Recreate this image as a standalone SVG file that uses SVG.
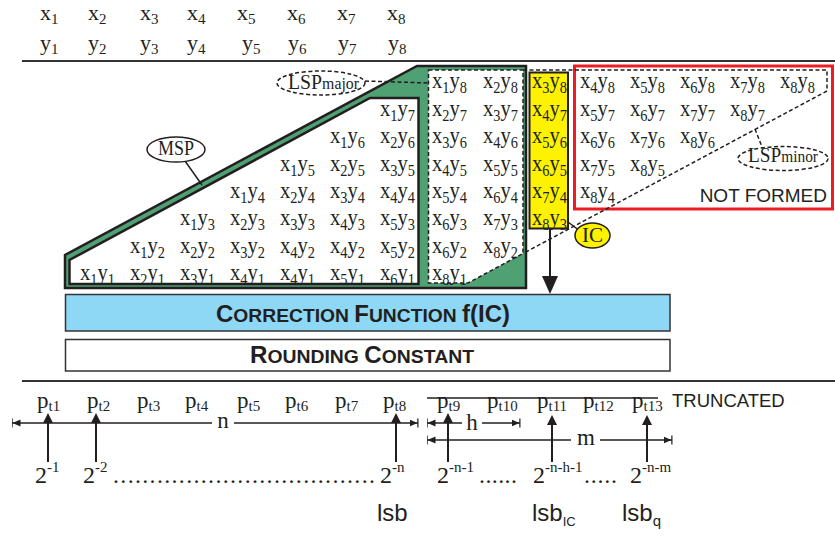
<svg xmlns="http://www.w3.org/2000/svg" width="835" height="538" viewBox="0 0 835 538">
  <defs>
    <style>
      .serif{font-family:"Liberation Serif","Times New Roman",serif;fill:#231f20}
      .sans{font-family:"Liberation Sans",Arial,sans-serif;fill:#231f20}
      .cell{font-size:23px}
      .cell .s{font-size:16px}
      .op{font-size:22px}
      .op .s{font-size:15px}
      .bit{font-size:23px}
      .bit .s{font-size:15px}
      .wt{font-size:24px}
      .sup{font-size:15px}
      .rule{stroke:#333;stroke-width:2;fill:none}
      .ln{stroke:#231f20;stroke-width:2;fill:none}
      .thin{stroke:#231f20;stroke-width:1.5;fill:none}
      .dash{stroke:#231f20;stroke-width:1.5;stroke-dasharray:4 2.5}
      .box{stroke:#333;stroke-width:1.5}
      .band{font-family:"Liberation Sans Narrow","Liberation Sans",Arial,sans-serif;font-weight:bold;font-size:23px;fill:#231f20}
      .band .sc{font-size:18.5px}
    </style>
    <marker id="up" viewBox="0 0 10 10" refX="3" refY="5" markerWidth="10" markerHeight="10" markerUnits="userSpaceOnUse" orient="auto">
      <path d="M0,0 L10,5 L0,10 Z" fill="#231f20"/>
    </marker>
    <marker id="tick" viewBox="0 0 9 10" refX="8.5" refY="5" markerWidth="9" markerHeight="10" markerUnits="userSpaceOnUse" orient="auto-start-reverse">
      <path d="M0,1.5 L8,5 L0,8.5 Z M7.8,0.5 H9 V9.5 H7.8 Z" fill="#231f20"/>
    </marker>
    <marker id="big" viewBox="0 0 18 16" refX="4" refY="8" markerWidth="18" markerHeight="16" markerUnits="userSpaceOnUse" orient="auto">
      <path d="M0,0 L18,8 L0,16 Z" fill="#231f20"/>
    </marker>
  </defs>

  <rect width="835" height="538" fill="#fff"/>

  <!-- operand bits -->
  <g id="operands" class="serif op">
    <text x="40" y="20">x<tspan class="s" dy="4">1</tspan></text>
    <text x="88" y="20">x<tspan class="s" dy="4">2</tspan></text>
    <text x="140" y="20">x<tspan class="s" dy="4">3</tspan></text>
    <text x="187" y="20">x<tspan class="s" dy="4">4</tspan></text>
    <text x="237" y="20">x<tspan class="s" dy="4">5</tspan></text>
    <text x="287" y="20">x<tspan class="s" dy="4">6</tspan></text>
    <text x="337" y="20">x<tspan class="s" dy="4">7</tspan></text>
    <text x="387" y="20">x<tspan class="s" dy="4">8</tspan></text>
    <text x="40" y="50">y<tspan class="s" dy="4">1</tspan></text>
    <text x="88" y="50">y<tspan class="s" dy="4">2</tspan></text>
    <text x="140" y="50">y<tspan class="s" dy="4">3</tspan></text>
    <text x="187" y="50">y<tspan class="s" dy="4">4</tspan></text>
    <text x="242" y="50">y<tspan class="s" dy="4">5</tspan></text>
    <text x="288" y="50">y<tspan class="s" dy="4">6</tspan></text>
    <text x="338" y="50">y<tspan class="s" dy="4">7</tspan></text>
    <text x="388" y="50">y<tspan class="s" dy="4">8</tspan></text>
  </g>

  <!-- section rules -->
  <line class="rule" x1="22" y1="61" x2="835" y2="61"/>
  <line class="rule" x1="22" y1="381" x2="835" y2="381"/>

  <!-- most significant part: green band with white interior -->
  <g id="msp">
    <path d="M65,288 V255 L417,66 H526 V288 Z" fill="#4fa173" stroke="#231f20" stroke-width="2.5"/>
    <path d="M69.5,284 V260 L370,98 H418.5 V284 Z" fill="#fff" stroke="#231f20" stroke-width="2.5"/>
    <g class="serif cell">
      <text x="380" y="115.5" textLength="35" lengthAdjust="spacingAndGlyphs">x<tspan class="s" dy="5">1</tspan><tspan dy="-5">y</tspan><tspan class="s" dy="5">7</tspan></text>
      <text x="330" y="143" textLength="35" lengthAdjust="spacingAndGlyphs">x<tspan class="s" dy="5">1</tspan><tspan dy="-5">y</tspan><tspan class="s" dy="5">6</tspan></text>
      <text x="380" y="143" textLength="35" lengthAdjust="spacingAndGlyphs">x<tspan class="s" dy="5">2</tspan><tspan dy="-5">y</tspan><tspan class="s" dy="5">6</tspan></text>
      <text x="280" y="170.5" textLength="35" lengthAdjust="spacingAndGlyphs">x<tspan class="s" dy="5">1</tspan><tspan dy="-5">y</tspan><tspan class="s" dy="5">5</tspan></text>
      <text x="330" y="170.5" textLength="35" lengthAdjust="spacingAndGlyphs">x<tspan class="s" dy="5">2</tspan><tspan dy="-5">y</tspan><tspan class="s" dy="5">5</tspan></text>
      <text x="380" y="170.5" textLength="35" lengthAdjust="spacingAndGlyphs">x<tspan class="s" dy="5">3</tspan><tspan dy="-5">y</tspan><tspan class="s" dy="5">5</tspan></text>
      <text x="230" y="198" textLength="35" lengthAdjust="spacingAndGlyphs">x<tspan class="s" dy="5">1</tspan><tspan dy="-5">y</tspan><tspan class="s" dy="5">4</tspan></text>
      <text x="280" y="198" textLength="35" lengthAdjust="spacingAndGlyphs">x<tspan class="s" dy="5">2</tspan><tspan dy="-5">y</tspan><tspan class="s" dy="5">4</tspan></text>
      <text x="330" y="198" textLength="35" lengthAdjust="spacingAndGlyphs">x<tspan class="s" dy="5">3</tspan><tspan dy="-5">y</tspan><tspan class="s" dy="5">4</tspan></text>
      <text x="380" y="198" textLength="35" lengthAdjust="spacingAndGlyphs">x<tspan class="s" dy="5">4</tspan><tspan dy="-5">y</tspan><tspan class="s" dy="5">4</tspan></text>
      <text x="180" y="225" textLength="35" lengthAdjust="spacingAndGlyphs">x<tspan class="s" dy="5">1</tspan><tspan dy="-5">y</tspan><tspan class="s" dy="5">3</tspan></text>
      <text x="230" y="225" textLength="35" lengthAdjust="spacingAndGlyphs">x<tspan class="s" dy="5">2</tspan><tspan dy="-5">y</tspan><tspan class="s" dy="5">3</tspan></text>
      <text x="280" y="225" textLength="35" lengthAdjust="spacingAndGlyphs">x<tspan class="s" dy="5">3</tspan><tspan dy="-5">y</tspan><tspan class="s" dy="5">3</tspan></text>
      <text x="330" y="225" textLength="35" lengthAdjust="spacingAndGlyphs">x<tspan class="s" dy="5">4</tspan><tspan dy="-5">y</tspan><tspan class="s" dy="5">3</tspan></text>
      <text x="380" y="225" textLength="35" lengthAdjust="spacingAndGlyphs">x<tspan class="s" dy="5">5</tspan><tspan dy="-5">y</tspan><tspan class="s" dy="5">3</tspan></text>
      <text x="130" y="252.5" textLength="35" lengthAdjust="spacingAndGlyphs">x<tspan class="s" dy="5">1</tspan><tspan dy="-5">y</tspan><tspan class="s" dy="5">2</tspan></text>
      <text x="180" y="252.5" textLength="35" lengthAdjust="spacingAndGlyphs">x<tspan class="s" dy="5">2</tspan><tspan dy="-5">y</tspan><tspan class="s" dy="5">2</tspan></text>
      <text x="230" y="252.5" textLength="35" lengthAdjust="spacingAndGlyphs">x<tspan class="s" dy="5">3</tspan><tspan dy="-5">y</tspan><tspan class="s" dy="5">2</tspan></text>
      <text x="280" y="252.5" textLength="35" lengthAdjust="spacingAndGlyphs">x<tspan class="s" dy="5">4</tspan><tspan dy="-5">y</tspan><tspan class="s" dy="5">2</tspan></text>
      <text x="330" y="252.5" textLength="35" lengthAdjust="spacingAndGlyphs">x<tspan class="s" dy="5">4</tspan><tspan dy="-5">y</tspan><tspan class="s" dy="5">2</tspan></text>
      <text x="380" y="252.5" textLength="35" lengthAdjust="spacingAndGlyphs">x<tspan class="s" dy="5">5</tspan><tspan dy="-5">y</tspan><tspan class="s" dy="5">2</tspan></text>
      <text x="80" y="280" textLength="35" lengthAdjust="spacingAndGlyphs">x<tspan class="s" dy="5">1</tspan><tspan dy="-5">y</tspan><tspan class="s" dy="5">1</tspan></text>
      <text x="130" y="280" textLength="35" lengthAdjust="spacingAndGlyphs">x<tspan class="s" dy="5">2</tspan><tspan dy="-5">y</tspan><tspan class="s" dy="5">1</tspan></text>
      <text x="180" y="280" textLength="35" lengthAdjust="spacingAndGlyphs">x<tspan class="s" dy="5">3</tspan><tspan dy="-5">y</tspan><tspan class="s" dy="5">1</tspan></text>
      <text x="230" y="280" textLength="35" lengthAdjust="spacingAndGlyphs">x<tspan class="s" dy="5">4</tspan><tspan dy="-5">y</tspan><tspan class="s" dy="5">1</tspan></text>
      <text x="280" y="280" textLength="35" lengthAdjust="spacingAndGlyphs">x<tspan class="s" dy="5">4</tspan><tspan dy="-5">y</tspan><tspan class="s" dy="5">1</tspan></text>
      <text x="330" y="280" textLength="35" lengthAdjust="spacingAndGlyphs">x<tspan class="s" dy="5">5</tspan><tspan dy="-5">y</tspan><tspan class="s" dy="5">1</tspan></text>
      <text x="380" y="280" textLength="35" lengthAdjust="spacingAndGlyphs">x<tspan class="s" dy="5">6</tspan><tspan dy="-5">y</tspan><tspan class="s" dy="5">1</tspan></text>
    </g>
  </g>

  <!-- least significant part, major columns -->
  <g id="lsp-major">
    <path class="dash" d="M428.5,70 H523 V253.5 L468,283 H428.5 Z" fill="#fff"/>
    <g class="serif cell">
      <text x="432" y="88" textLength="35" lengthAdjust="spacingAndGlyphs">x<tspan class="s" dy="5">1</tspan><tspan dy="-5">y</tspan><tspan class="s" dy="5">8</tspan></text>
      <text x="432" y="115.5" textLength="35" lengthAdjust="spacingAndGlyphs">x<tspan class="s" dy="5">2</tspan><tspan dy="-5">y</tspan><tspan class="s" dy="5">7</tspan></text>
      <text x="432" y="143" textLength="35" lengthAdjust="spacingAndGlyphs">x<tspan class="s" dy="5">3</tspan><tspan dy="-5">y</tspan><tspan class="s" dy="5">6</tspan></text>
      <text x="432" y="170.5" textLength="35" lengthAdjust="spacingAndGlyphs">x<tspan class="s" dy="5">4</tspan><tspan dy="-5">y</tspan><tspan class="s" dy="5">5</tspan></text>
      <text x="432" y="198" textLength="35" lengthAdjust="spacingAndGlyphs">x<tspan class="s" dy="5">5</tspan><tspan dy="-5">y</tspan><tspan class="s" dy="5">4</tspan></text>
      <text x="432" y="225" textLength="35" lengthAdjust="spacingAndGlyphs">x<tspan class="s" dy="5">6</tspan><tspan dy="-5">y</tspan><tspan class="s" dy="5">3</tspan></text>
      <text x="432" y="252.5" textLength="35" lengthAdjust="spacingAndGlyphs">x<tspan class="s" dy="5">6</tspan><tspan dy="-5">y</tspan><tspan class="s" dy="5">2</tspan></text>
      <text x="432" y="280" textLength="35" lengthAdjust="spacingAndGlyphs">x<tspan class="s" dy="5">8</tspan><tspan dy="-5">y</tspan><tspan class="s" dy="5">1</tspan></text>
      <text x="483" y="88" textLength="35" lengthAdjust="spacingAndGlyphs">x<tspan class="s" dy="5">2</tspan><tspan dy="-5">y</tspan><tspan class="s" dy="5">8</tspan></text>
      <text x="483" y="115.5" textLength="35" lengthAdjust="spacingAndGlyphs">x<tspan class="s" dy="5">3</tspan><tspan dy="-5">y</tspan><tspan class="s" dy="5">7</tspan></text>
      <text x="483" y="143" textLength="35" lengthAdjust="spacingAndGlyphs">x<tspan class="s" dy="5">4</tspan><tspan dy="-5">y</tspan><tspan class="s" dy="5">6</tspan></text>
      <text x="483" y="170.5" textLength="35" lengthAdjust="spacingAndGlyphs">x<tspan class="s" dy="5">5</tspan><tspan dy="-5">y</tspan><tspan class="s" dy="5">5</tspan></text>
      <text x="483" y="198" textLength="35" lengthAdjust="spacingAndGlyphs">x<tspan class="s" dy="5">6</tspan><tspan dy="-5">y</tspan><tspan class="s" dy="5">4</tspan></text>
      <text x="483" y="225" textLength="35" lengthAdjust="spacingAndGlyphs">x<tspan class="s" dy="5">7</tspan><tspan dy="-5">y</tspan><tspan class="s" dy="5">3</tspan></text>
      <text x="483" y="252.5" textLength="35" lengthAdjust="spacingAndGlyphs">x<tspan class="s" dy="5">8</tspan><tspan dy="-5">y</tspan><tspan class="s" dy="5">2</tspan></text>
    </g>
  </g>

  <!-- region that is never generated -->
  <g id="not-formed">
    <rect x="574.5" y="66" width="258" height="143" fill="none" stroke="#ed1c24" stroke-width="3"/>
    <g class="serif cell">
      <text x="580" y="88" textLength="35" lengthAdjust="spacingAndGlyphs">x<tspan class="s" dy="5">4</tspan><tspan dy="-5">y</tspan><tspan class="s" dy="5">8</tspan></text>
      <text x="630" y="88" textLength="35" lengthAdjust="spacingAndGlyphs">x<tspan class="s" dy="5">5</tspan><tspan dy="-5">y</tspan><tspan class="s" dy="5">8</tspan></text>
      <text x="680" y="88" textLength="35" lengthAdjust="spacingAndGlyphs">x<tspan class="s" dy="5">6</tspan><tspan dy="-5">y</tspan><tspan class="s" dy="5">8</tspan></text>
      <text x="730" y="88" textLength="35" lengthAdjust="spacingAndGlyphs">x<tspan class="s" dy="5">7</tspan><tspan dy="-5">y</tspan><tspan class="s" dy="5">8</tspan></text>
      <text x="780" y="88" textLength="35" lengthAdjust="spacingAndGlyphs">x<tspan class="s" dy="5">8</tspan><tspan dy="-5">y</tspan><tspan class="s" dy="5">8</tspan></text>
      <text x="580" y="115.5" textLength="35" lengthAdjust="spacingAndGlyphs">x<tspan class="s" dy="5">5</tspan><tspan dy="-5">y</tspan><tspan class="s" dy="5">7</tspan></text>
      <text x="630" y="115.5" textLength="35" lengthAdjust="spacingAndGlyphs">x<tspan class="s" dy="5">6</tspan><tspan dy="-5">y</tspan><tspan class="s" dy="5">7</tspan></text>
      <text x="680" y="115.5" textLength="35" lengthAdjust="spacingAndGlyphs">x<tspan class="s" dy="5">7</tspan><tspan dy="-5">y</tspan><tspan class="s" dy="5">7</tspan></text>
      <text x="730" y="115.5" textLength="35" lengthAdjust="spacingAndGlyphs">x<tspan class="s" dy="5">8</tspan><tspan dy="-5">y</tspan><tspan class="s" dy="5">7</tspan></text>
      <text x="580" y="143" textLength="35" lengthAdjust="spacingAndGlyphs">x<tspan class="s" dy="5">6</tspan><tspan dy="-5">y</tspan><tspan class="s" dy="5">6</tspan></text>
      <text x="630" y="143" textLength="35" lengthAdjust="spacingAndGlyphs">x<tspan class="s" dy="5">7</tspan><tspan dy="-5">y</tspan><tspan class="s" dy="5">6</tspan></text>
      <text x="680" y="143" textLength="35" lengthAdjust="spacingAndGlyphs">x<tspan class="s" dy="5">8</tspan><tspan dy="-5">y</tspan><tspan class="s" dy="5">6</tspan></text>
      <text x="580" y="170.5" textLength="35" lengthAdjust="spacingAndGlyphs">x<tspan class="s" dy="5">7</tspan><tspan dy="-5">y</tspan><tspan class="s" dy="5">5</tspan></text>
      <text x="630" y="170.5" textLength="35" lengthAdjust="spacingAndGlyphs">x<tspan class="s" dy="5">8</tspan><tspan dy="-5">y</tspan><tspan class="s" dy="5">5</tspan></text>
      <text x="580" y="198" textLength="35" lengthAdjust="spacingAndGlyphs">x<tspan class="s" dy="5">8</tspan><tspan dy="-5">y</tspan><tspan class="s" dy="5">4</tspan></text>
    </g>
    <text class="sans" x="827" y="202" font-size="19" text-anchor="end">NOT FORMED</text>
  </g>

  <!-- boundary of the minor least significant part -->
  <path id="lsp-minor-edge" class="dash" fill="none" d="M523,70 H827 V91 L523,253.5"/>

  <!-- information column -->
  <g id="ic-column">
    <rect x="529.5" y="72.5" width="38.5" height="156" fill="#fff200" stroke="#231f20" stroke-width="2"/>
    <g class="serif cell">
      <text x="532" y="88" textLength="35" lengthAdjust="spacingAndGlyphs">x<tspan class="s" dy="5">3</tspan><tspan dy="-5">y</tspan><tspan class="s" dy="5">8</tspan></text>
      <text x="532" y="115.5" textLength="35" lengthAdjust="spacingAndGlyphs">x<tspan class="s" dy="5">4</tspan><tspan dy="-5">y</tspan><tspan class="s" dy="5">7</tspan></text>
      <text x="532" y="143" textLength="35" lengthAdjust="spacingAndGlyphs">x<tspan class="s" dy="5">5</tspan><tspan dy="-5">y</tspan><tspan class="s" dy="5">6</tspan></text>
      <text x="532" y="170.5" textLength="35" lengthAdjust="spacingAndGlyphs">x<tspan class="s" dy="5">6</tspan><tspan dy="-5">y</tspan><tspan class="s" dy="5">5</tspan></text>
      <text x="532" y="198" textLength="35" lengthAdjust="spacingAndGlyphs">x<tspan class="s" dy="5">7</tspan><tspan dy="-5">y</tspan><tspan class="s" dy="5">4</tspan></text>
      <text x="532" y="225" textLength="35" lengthAdjust="spacingAndGlyphs">x<tspan class="s" dy="5">8</tspan><tspan dy="-5">y</tspan><tspan class="s" dy="5">3</tspan></text>
    </g>
  </g>

  <!-- leader lines and arrows -->
  <g id="connectors">
    <line class="thin" x1="185" y1="161" x2="202" y2="185"/>
    <line class="dash" x1="365" y1="81" x2="428.5" y2="83"/>
    <line class="dash" x1="755" y1="129" x2="762" y2="147"/>
    <line class="thin" x1="568" y1="222" x2="580" y2="231"/>
    <line class="ln" x1="550" y1="229" x2="550" y2="280" marker-end="url(#big)"/>
    <!-- bit axis -->
    <line class="thin" x1="427" y1="398" x2="658" y2="398"/>
    <line class="thin" x1="12" y1="423" x2="212" y2="423" marker-start="url(#tick)"/>
    <line class="thin" x1="234" y1="423" x2="418" y2="423" marker-end="url(#tick)"/>
    <line class="thin" x1="427" y1="423" x2="462" y2="423" marker-start="url(#tick)"/>
    <line class="thin" x1="482" y1="423" x2="520" y2="423" marker-end="url(#tick)"/>
    <line class="thin" x1="427" y1="440" x2="571" y2="440" marker-start="url(#tick)"/>
    <line class="thin" x1="600" y1="440" x2="672" y2="440" marker-end="url(#tick)"/>
    <line class="ln" x1="48" y1="462" x2="48" y2="420" marker-end="url(#up)"/>
    <line class="ln" x1="96" y1="462" x2="96" y2="420" marker-end="url(#up)"/>
    <line class="ln" x1="396" y1="462" x2="396" y2="420" marker-end="url(#up)"/>
    <line class="ln" x1="448" y1="462" x2="448" y2="420" marker-end="url(#up)"/>
    <line class="ln" x1="552" y1="462" x2="552" y2="422" marker-end="url(#up)"/>
    <line class="ln" x1="647" y1="462" x2="647" y2="422" marker-end="url(#up)"/>
  </g>

  <!-- callout labels -->
  <g id="msp-label">
    <ellipse cx="176" cy="149.5" rx="29" ry="12.5" fill="#fff" stroke="#231f20" stroke-width="1.5"/>
    <text class="serif" x="176" y="155" font-size="20" text-anchor="middle" textLength="36" lengthAdjust="spacingAndGlyphs">MSP</text>
  </g>
  <g id="lsp-major-label">
    <ellipse class="dash" cx="321" cy="83" rx="44" ry="12" fill="#fff"/>
    <text class="serif" x="288" y="88.5" font-size="20" textLength="71" lengthAdjust="spacingAndGlyphs">LSP<tspan font-size="16">major</tspan></text>
  </g>
  <g id="lsp-minor-label">
    <ellipse class="dash" cx="783" cy="158.5" rx="45" ry="12" fill="#fff"/>
    <text class="serif" x="748" y="162" font-size="20" textLength="70" lengthAdjust="spacingAndGlyphs">LSP<tspan font-size="16">minor</tspan></text>
  </g>
  <g id="ic-label">
    <ellipse cx="592.5" cy="235.5" rx="17.5" ry="12.5" fill="#fff200" stroke="#231f20" stroke-width="1.5"/>
    <text class="serif" x="592.5" y="242" font-size="21" text-anchor="middle">IC</text>
  </g>

  <!-- correction and rounding rows -->
  <g id="correction">
    <rect class="box" x="65.5" y="294.5" width="604.5" height="36.5" fill="#8fd8f5"/>
    <text class="band" x="363" y="321.5" text-anchor="middle" textLength="294" lengthAdjust="spacingAndGlyphs">C<tspan class="sc">ORRECTION </tspan>F<tspan class="sc">UNCTION </tspan>f(IC)</text>
  </g>
  <g id="rounding">
    <rect class="box" x="65.5" y="339.5" width="604.5" height="31.5" fill="#fff"/>
    <text class="band" x="362" y="363" text-anchor="middle" textLength="224" lengthAdjust="spacingAndGlyphs">R<tspan class="sc">OUNDING </tspan>C<tspan class="sc">ONSTANT</tspan></text>
  </g>

  <!-- product bits and weights -->
  <g id="bits" class="serif bit">
    <text x="37" y="408">p<tspan class="s" dy="3">t1</tspan></text>
    <text x="87" y="408">p<tspan class="s" dy="3">t2</tspan></text>
    <text x="137" y="408">p<tspan class="s" dy="3">t3</tspan></text>
    <text x="185" y="408">p<tspan class="s" dy="3">t4</tspan></text>
    <text x="237" y="408">p<tspan class="s" dy="3">t5</tspan></text>
    <text x="285" y="408">p<tspan class="s" dy="3">t6</tspan></text>
    <text x="335" y="408">p<tspan class="s" dy="3">t7</tspan></text>
    <text x="383" y="408">p<tspan class="s" dy="3">t8</tspan></text>
    <text x="437" y="408">p<tspan class="s" dy="3">t9</tspan></text>
    <text x="487" y="408">p<tspan class="s" dy="3">t10</tspan></text>
    <text x="537" y="408">p<tspan class="s" dy="3">t11</tspan></text>
    <text x="583" y="408">p<tspan class="s" dy="3">t12</tspan></text>
    <text x="632" y="408">p<tspan class="s" dy="3">t13</tspan></text>
    <text x="223" y="428" text-anchor="middle">n</text>
    <text x="472" y="430" text-anchor="middle">h</text>
    <text x="586" y="445" text-anchor="middle">m</text>
  </g>
  <text class="sans" x="672" y="407" font-size="18.5">TRUNCATED</text>

  <g id="weights" class="serif wt">
    <text x="35" y="483">2<tspan class="sup" dy="-11">-1</tspan></text>
    <text x="83" y="483">2<tspan class="sup" dy="-11">-2</tspan></text>
    <text x="113" y="483" textLength="262" lengthAdjust="spacing">....................................</text>
    <text x="380" y="483">2<tspan class="sup" dy="-11">-n</tspan></text>
    <text x="437" y="483">2<tspan class="sup" dy="-11">-n-1</tspan></text>
    <text x="479" y="483" textLength="38" lengthAdjust="spacing">......</text>
    <text x="533" y="483">2<tspan class="sup" dy="-11">-n-h-1</tspan></text>
    <text x="584" y="483" textLength="33" lengthAdjust="spacing">.....</text>
    <text x="630" y="483">2<tspan class="sup" dy="-11">-n-m</tspan></text>
  </g>
  <g id="lsb-labels" class="sans" font-size="24">
    <text x="377" y="521">lsb</text>
    <text x="532" y="521">lsb<tspan font-size="13" dy="5">IC</tspan></text>
    <text x="622" y="521">lsb<tspan font-size="15" dy="5">q</tspan></text>
  </g>
</svg>
